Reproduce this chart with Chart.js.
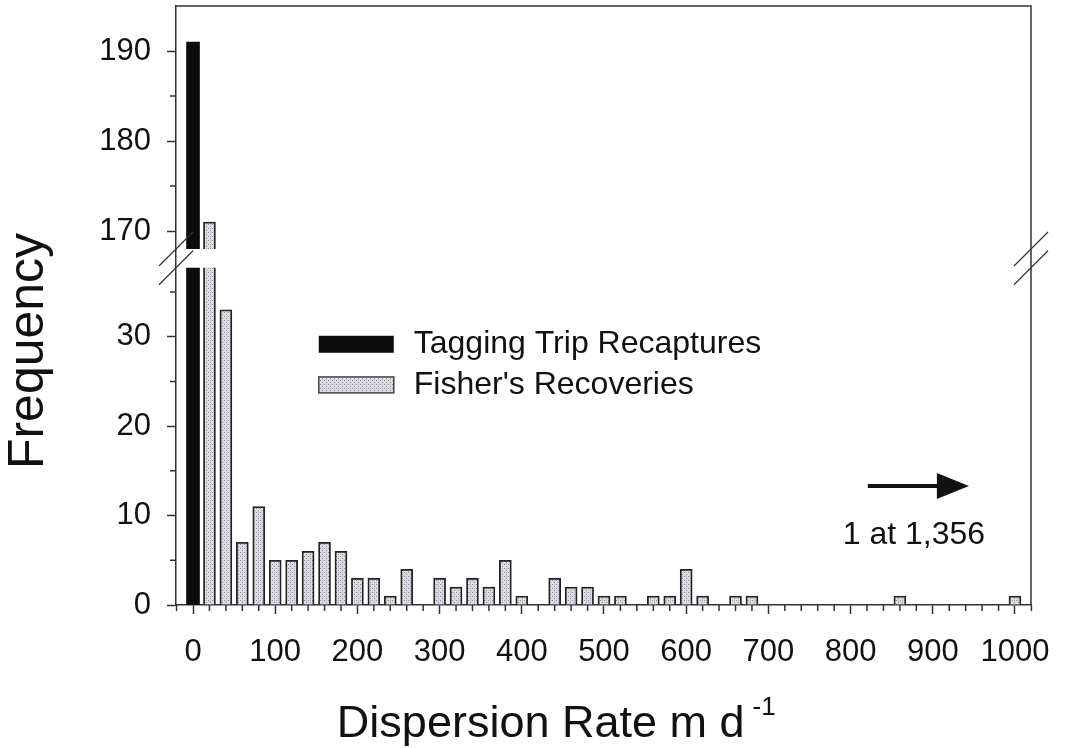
<!DOCTYPE html>
<html>
<head>
<meta charset="utf-8">
<title>Dispersion rate histogram</title>
<script src="https://cdn.jsdelivr.net/npm/chart.js@4.4.1/dist/chart.umd.min.js"></script>
<style>
  html, body { margin: 0; padding: 0; background: #fff; }
  canvas { display: block; }
</style>
</head>
<body>
<canvas id="chartCanvas" width="1065" height="748"></canvas>
<script>
// bin centres (m per day) and counts
const tagBins = [0];
const tagCounts = [191];

const fisherBins = [20, 40, 60, 80, 100, 120, 140, 160, 180, 200,
    220, 240, 260, 280, 300, 320, 340, 360, 380, 400,
    420, 440, 460, 480, 500, 520, 540, 560, 580, 600,
    620, 640, 660, 680, 700, 720, 740, 760, 780, 800,
    820, 840, 860, 880, 900, 920, 940, 960, 980, 1000];
const fisherCounts = [171, 33, 7, 11, 5, 5, 6, 7, 6, 3,
    3, 1, 4, 0, 3, 2, 3, 2, 5, 1,
    0, 3, 2, 2, 1, 1, 0, 1, 1, 4,
    1, 0, 1, 1, 0, 0, 0, 0, 0, 0,
    0, 0, 1, 0, 0, 0, 0, 0, 0, 1];

const xTickLabels = [0, 100, 200, 300, 400, 500, 600, 700, 800, 900, 1000];
const lowTickLabels = [0, 10, 20, 30];
const highTickLabels = [170, 180, 190];

const seriesNames = ["Tagging Trip Recaptures", "Fisher's Recoveries"];
const outlierNote = "1 at 1,356";

// broken y axis: lower part 0..39.8 (bars cut at 37.7), upper part 168..195
const lowMax = 39.8;
const lowCut = 37.7;
const highMin = 168;
const highMax = 195;

const FONT = "'Liberation Sans', Arial, sans-serif";
const AXIS = "#333";
Chart.defaults.font.family = FONT;
Chart.defaults.color = "#111";

function stipple() {
    const c = document.createElement("canvas");
    c.width = 4;
    c.height = 4;
    const g = c.getContext("2d");
    g.fillStyle = "#dcdde2";
    g.fillRect(0, 0, 4, 4);
    g.fillStyle = "#8f9098";
    g.fillRect(0, 0, 1, 1);
    g.fillRect(2, 2, 1, 1);
    g.fillStyle = "#b8b9c0";
    g.fillRect(2, 0, 1, 1);
    return g.createPattern(c, "repeat");
}
const fisherFill = stipple();

const tagPoints = tagBins.map((x, i) => ({ x: x, y: tagCounts[i] }));
const fisherPoints = fisherBins.map((x, i) => ({ x: x, y: fisherCounts[i] }));

const tagStyle = { backgroundColor: "#0b0b0b", borderWidth: 0, barThickness: 13, grouped: false };
const fisherStyle = { backgroundColor: fisherFill, borderColor: "#222", borderWidth: 1.8, barThickness: 12, grouped: false };

function fixedTicks(list) {
    return scale => { scale.ticks = list.map(v => ({ value: v })); };
}

function noPadding(scale) {
    scale.paddingTop = 0;
    scale.paddingBottom = 0;
    scale.paddingLeft = 0;
    scale.paddingRight = 0;
}

const brokenAxis = {
    id: "brokenAxis",
    beforeDraw(chart) {
        const ctx = chart.ctx;
        ctx.save();
        ctx.fillStyle = "#fff";
        ctx.fillRect(0, 0, chart.width, chart.height);
        ctx.restore();
    },
    beforeDatasetDraw(chart, args) {
        const ds = chart.data.datasets[args.index];
        const area = chart.chartArea;
        const ctx = chart.ctx;
        let top, bottom;
        if (ds.yAxisID === "yLow") {
            top = chart.scales.yLow.getPixelForValue(lowCut);
            bottom = area.bottom + 2;
        } else {
            top = area.top - 2;
            bottom = chart.scales.yHigh.bottom;
        }
        ctx.save();
        ctx.beginPath();
        ctx.rect(area.left, top, area.right - area.left, bottom - top);
        ctx.clip();
    },
    afterDatasetDraw(chart) {
        chart.ctx.restore();
    },
    afterDraw(chart) {
        const ctx = chart.ctx;
        const a = chart.chartArea;
        const x = chart.scales.x;
        const yLow = chart.scales.yLow;
        const yHigh = chart.scales.yHigh;

        ctx.save();
        ctx.strokeStyle = AXIS;
        ctx.lineWidth = 1.5;

        // top and right frame
        ctx.beginPath();
        ctx.moveTo(a.left, a.top);
        ctx.lineTo(a.right, a.top);
        ctx.lineTo(a.right, a.bottom);
        ctx.stroke();

        // minor ticks
        ctx.beginPath();
        for (let v = -20; v <= 1020; v += 20) {
            if (v % 100 === 0) continue;
            const px = x.getPixelForValue(v);
            ctx.moveTo(px, a.bottom);
            ctx.lineTo(px, a.bottom + 6);
        }
        [5, 15, 25, 35].forEach(v => {
            const py = yLow.getPixelForValue(v);
            ctx.moveTo(a.left, py);
            ctx.lineTo(a.left - 6, py);
        });
        [175, 185].forEach(v => {
            const py = yHigh.getPixelForValue(v);
            ctx.moveTo(a.left, py);
            ctx.lineTo(a.left - 6, py);
        });
        ctx.stroke();

        // axis break marks
        const gapTop = yHigh.bottom;
        const gapBottom = yLow.getPixelForValue(lowCut);
        ctx.lineWidth = 1.2;
        ctx.beginPath();
        [a.left, a.right].forEach(ax => {
            [gapTop, gapBottom].forEach(py => {
                ctx.moveTo(ax - 17, py + 17);
                ctx.lineTo(ax + 17, py - 17);
            });
        });
        ctx.stroke();

        // legend
        const lx = x.getPixelForValue(153);
        const rows = [30.1, 25.5];
        ctx.font = "32px " + FONT;
        ctx.textAlign = "left";
        ctx.textBaseline = "alphabetic";
        seriesNames.forEach((name, i) => {
            const top = yLow.getPixelForValue(rows[i]);
            if (i === 0) {
                ctx.fillStyle = "#0b0b0b";
                ctx.fillRect(lx, top, 75, 17);
            } else {
                ctx.fillStyle = fisherFill;
                ctx.fillRect(lx, top, 75, 16);
                ctx.lineWidth = 1.5;
                ctx.strokeStyle = "#444";
                ctx.strokeRect(lx, top, 75, 16);
            }
            ctx.fillStyle = "#111";
            ctx.fillText(name, lx + 95, top + 17);
        });

        // outlier arrow and note
        const ay = yLow.getPixelForValue(13.3);
        const ax0 = x.getPixelForValue(821);
        const ax1 = x.getPixelForValue(905);
        const ax2 = x.getPixelForValue(944);
        ctx.strokeStyle = "#111";
        ctx.lineWidth = 4;
        ctx.beginPath();
        ctx.moveTo(ax0, ay);
        ctx.lineTo(ax1 + 2, ay);
        ctx.stroke();
        ctx.fillStyle = "#111";
        ctx.beginPath();
        ctx.moveTo(ax1, ay - 13);
        ctx.lineTo(ax2, ay);
        ctx.lineTo(ax1, ay + 13);
        ctx.closePath();
        ctx.fill();
        ctx.textAlign = "center";
        ctx.fillText(outlierNote, x.getPixelForValue(877), yLow.getPixelForValue(6.8));

        // y axis title
        ctx.save();
        ctx.translate(43, 351);
        ctx.rotate(-Math.PI / 2);
        ctx.font = "50px " + FONT;
        ctx.textAlign = "center";
        ctx.fillText("Frequency", 0, 0);
        ctx.restore();

        // x axis title with superscript
        ctx.font = "45px " + FONT;
        ctx.textAlign = "left";
        const main = "Dispersion Rate m d";
        const tx = x.getPixelForValue(175);
        const base = a.bottom + 132;
        ctx.fillText(main, tx, base);
        const w = ctx.measureText(main).width;
        ctx.font = "26px " + FONT;
        ctx.fillText("-1", tx + w + 8, base - 22);

        ctx.restore();
    }
};

const ctx = document.getElementById("chartCanvas").getContext("2d");
const chart = new Chart(ctx, {
    type: "bar",
    data: {
        datasets: [
            Object.assign({ label: seriesNames[0], data: tagPoints, yAxisID: "yHigh" }, tagStyle),
            Object.assign({ label: seriesNames[0], data: tagPoints, yAxisID: "yLow" }, tagStyle),
            Object.assign({ label: seriesNames[1], data: fisherPoints, yAxisID: "yHigh" }, fisherStyle),
            Object.assign({ label: seriesNames[1], data: fisherPoints, yAxisID: "yLow" }, fisherStyle)
        ]
    },
    options: {
        responsive: false,
        animation: false,
        layout: { padding: { top: 6, right: 34, left: 0, bottom: 0 } },
        plugins: {
            legend: { display: false },
            tooltip: { enabled: false }
        },
        scales: {
            x: {
                type: "linear",
                min: -20.7,
                max: 1019.5,
                offset: false,
                grid: { offset: false, drawOnChartArea: false, tickLength: 9, tickColor: AXIS, tickWidth: 1.5 },
                border: { color: AXIS, width: 1.5 },
                ticks: { font: { size: 31 }, color: "#111", padding: 20, autoSkip: false, maxRotation: 0, callback: v => String(v) },
                afterBuildTicks: fixedTicks(xTickLabels),
                afterFit: scale => { scale.height = 143; noPadding(scale); }
            },
            yLow: {
                type: "linear",
                position: "left",
                stack: "freq",
                stackWeight: 356,
                min: 0,
                max: lowMax,
                grid: { drawOnChartArea: false, tickLength: 9, tickColor: AXIS, tickWidth: 1.5 },
                border: { color: AXIS, width: 1.5 },
                ticks: { font: { size: 31 }, color: "#111", padding: 16 },
                afterBuildTicks: fixedTicks(lowTickLabels),
                afterFit: scale => { scale.width = 176; noPadding(scale); }
            },
            yHigh: {
                type: "linear",
                position: "left",
                stack: "freq",
                stackWeight: 243,
                min: highMin,
                max: highMax,
                beginAtZero: false,
                grid: { drawOnChartArea: false, tickLength: 9, tickColor: AXIS, tickWidth: 1.5 },
                border: { color: AXIS, width: 1.5 },
                ticks: { font: { size: 31 }, color: "#111", padding: 16 },
                afterBuildTicks: fixedTicks(highTickLabels),
                afterFit: scale => { scale.width = 176; noPadding(scale); }
            }
        }
    },
    plugins: [brokenAxis]
});
</script>
</body>
</html>
